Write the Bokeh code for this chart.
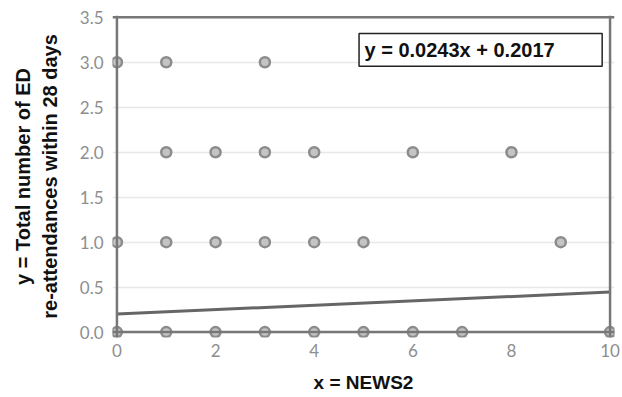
from bokeh.plotting import figure
from bokeh.models import Span, BoxAnnotation, Label, Range1d, FixedTicker
from bokeh.embed import file_html
from bokeh.resources import INLINE

# data
news2 = [0, 1, 3,
         1, 2, 3, 4, 6, 8,
         0, 1, 2, 3, 4, 5, 9,
         0, 1, 2, 3, 4, 5, 6, 7, 10]
reattend = [3, 3, 3,
            2, 2, 2, 2, 2, 2,
            1, 1, 1, 1, 1, 1, 1,
            0, 0, 0, 0, 0, 0, 0, 0, 0]
slope = 0.0243
intercept = 0.2017
x_ticks = [0, 2, 4, 6, 8, 10]
y_ticks = [0.0, 0.5, 1.0, 1.5, 2.0, 2.5, 3.0, 3.5]
x_title = "x = NEWS2"
y_title = "y = Total number of ED\nre-attendances within 28 days"

p = figure(width=620, height=395, output_backend="svg", toolbar_location=None,
           x_range=Range1d(-0.09, 10.09), y_range=Range1d(-0.06, 3.52),
           min_border_left=112, min_border_right=6, min_border_top=15, min_border_bottom=58)
p.outline_line_color = None
p.xgrid.grid_line_color = None
p.ygrid.grid_line_color = "#e8e8e8"
p.ygrid.grid_line_width = 1.5
p.ygrid.ticker = FixedTicker(ticks=y_ticks)

for ax in (p.xaxis[0], p.yaxis[0]):
    ax.axis_line_color = None
    ax.major_tick_line_color = None
    ax.minor_tick_line_color = None
    ax.major_label_text_color = "#8e8e8e"
    ax.major_label_text_font = "Lato"
    ax.major_label_text_font_size = "17px"
    ax.axis_label_text_font = "Liberation Sans"
    ax.axis_label_text_font_style = "bold"
    ax.axis_label_text_color = "#111111"

p.xaxis.ticker = FixedTicker(ticks=x_ticks)
p.yaxis.ticker = FixedTicker(ticks=y_ticks)
p.yaxis.major_label_overrides = {t: f"{t:.1f}" for t in y_ticks}
p.xaxis.major_label_standoff = 0
p.yaxis.major_label_standoff = 3
p.xaxis.axis_label = x_title
p.xaxis.axis_label_text_font_size = "19px"
p.xaxis.axis_label_standoff = 12
p.yaxis.axis_label = y_title
p.yaxis.axis_label_text_font_size = "20px"
p.yaxis.axis_label_standoff = 16

# frame lines
for loc in (0, 10):
    p.add_layout(Span(location=loc, dimension="height", line_color="#777777", line_width=2.5))
for loc in (0, 3.5):
    p.add_layout(Span(location=loc, dimension="width", line_color="#777777", line_width=2.5))

# regression line
xs = [0, 10]
ys = [intercept + slope * x for x in xs]
p.line(xs, ys, line_color="#666666", line_width=3)

# points
p.scatter(news2, reattend, size=10, fill_color="#c4c4c4", line_color="#8c8c8c", line_width=2.5)

# equation box
p.add_layout(BoxAnnotation(left=4.91, right=9.84, top=3.32, bottom=2.955,
                           fill_color="white", fill_alpha=1.0,
                           line_color="#222222", line_width=1.5, line_alpha=1.0))
p.add_layout(Label(x=5.02, y=3.14, text=f"y = {slope}x + {intercept}",
                   text_baseline="middle", text_font="Liberation Sans",
                   text_font_style="bold", text_font_size="20px", text_color="#111111"))

open("out.html", "w").write(file_html(p, INLINE))
